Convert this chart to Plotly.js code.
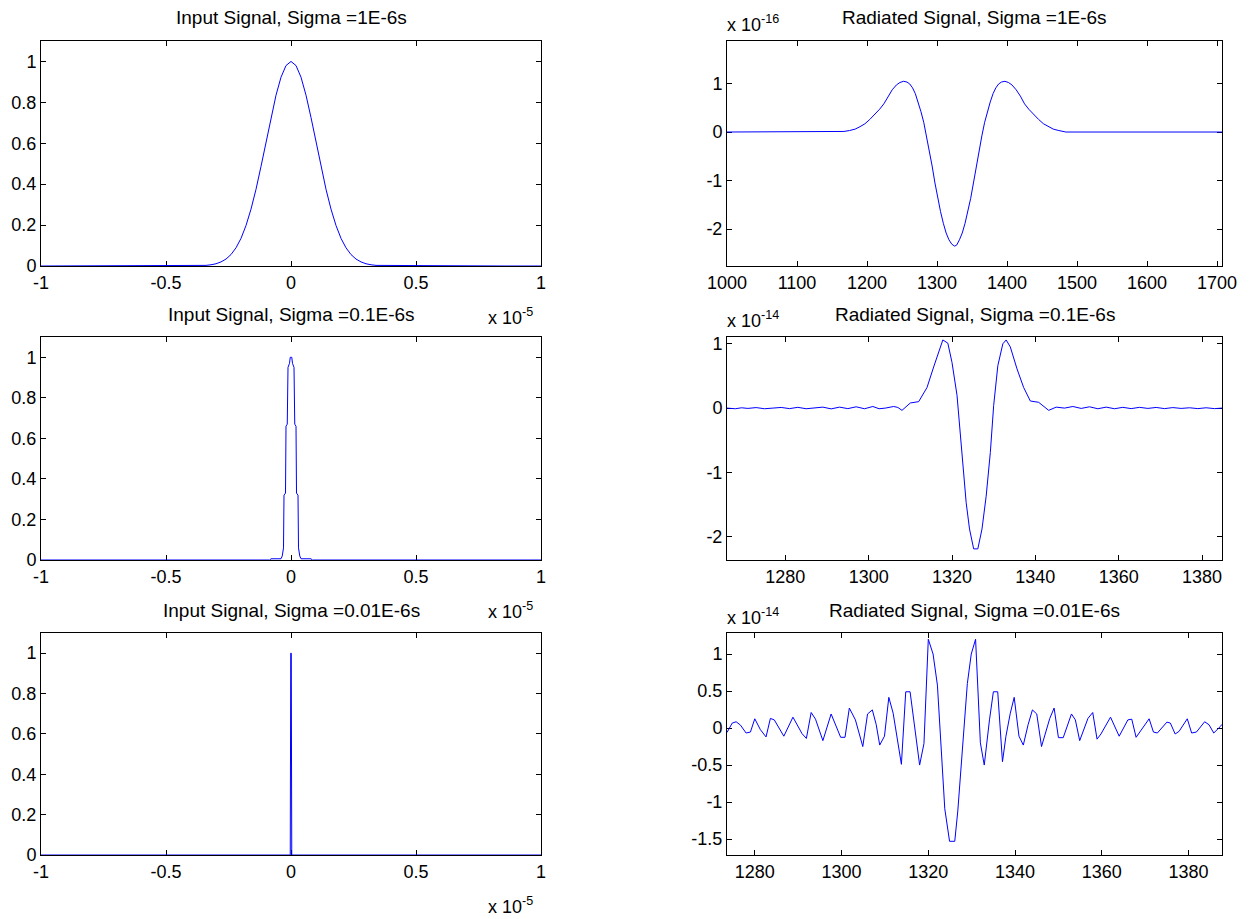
<!DOCTYPE html>
<html><head><meta charset="utf-8">
<script src="https://cdn.plot.ly/plotly-3.0.1.min.js"></script>
<style>html,body{margin:0;padding:0;background:#fff}#chart{width:1249px;height:919px}</style>
</head><body><div id="chart"></div>
<script>
// ---------- DATA (x in units of 1e-5 s for the input signals; radiated amplitudes in the units shown by the exponent labels) ----------
const titles = [
  "Input Signal, Sigma =1E-6s", "Radiated Signal, Sigma =1E-6s",
  "Input Signal, Sigma =0.1E-6s", "Radiated Signal, Sigma =0.1E-6s",
  "Input Signal, Sigma =0.01E-6s", "Radiated Signal, Sigma =0.01E-6s"
];

// Input signal, sigma = 1E-6 s
const in1X = [-1, -0.86, -0.34, -0.32, -0.30, -0.28, -0.26, -0.24, -0.22, -0.20, -0.18, -0.16, -0.14, -0.12, -0.10, -0.08, -0.06, -0.04, -0.02, 0,
              0.02, 0.04, 0.06, 0.08, 0.10, 0.12, 0.14, 0.16, 0.18, 0.20, 0.22, 0.24, 0.26, 0.28, 0.30, 0.32, 0.34, 0.86, 1];
const in1Y = [0, 0, 0.003, 0.006, 0.011, 0.020, 0.034, 0.056, 0.089, 0.135, 0.198, 0.278, 0.375, 0.487, 0.607, 0.726, 0.835, 0.923, 0.980, 1.000,
              0.980, 0.923, 0.835, 0.726, 0.607, 0.487, 0.375, 0.278, 0.198, 0.135, 0.089, 0.056, 0.034, 0.020, 0.011, 0.006, 0.003, 0, 0];

// Input signal, sigma = 0.1E-6 s
const in2X = [-1, -0.085, -0.08, -0.04, -0.035, -0.03, -0.028, -0.022, -0.02, -0.015, -0.012, -0.006, -0.003, 0,
              0.003, 0.006, 0.012, 0.015, 0.02, 0.022, 0.028, 0.03, 0.035, 0.04, 0.08, 0.085, 1];
const in2Y = [0, 0, 0.006, 0.006, 0.02, 0.06, 0.32, 0.33, 0.66, 0.67, 0.95, 0.97, 1.0, 1.0,
              1.0, 0.97, 0.95, 0.67, 0.66, 0.33, 0.32, 0.06, 0.02, 0.006, 0.006, 0, 0];

// Input signal, sigma = 0.01E-6 s
const in3X = [-1, -0.003, -0.001, 0.001, 0.003, 1];
const in3Y = [0, 0, 1, 1, 0, 0];

// Radiated signal, sigma = 1E-6 s  (x 1e-16)
const rad1X = [1000, 1165, 1167, 1175, 1183, 1190, 1197, 1204, 1211, 1218, 1224, 1230, 1236, 1242, 1247, 1252, 1257, 1261, 1265, 1269, 1273, 1277,
               1281, 1285, 1289, 1293, 1297, 1301, 1305, 1309, 1313, 1317, 1321, 1325, 1328, 1332, 1336, 1340, 1344, 1348, 1352, 1356, 1360,
               1364, 1368, 1372, 1376, 1380, 1384, 1388, 1392, 1397, 1402, 1407, 1413, 1419, 1425, 1431, 1438, 1445, 1452, 1459, 1466, 1474,
               1482, 1484, 1707];
const rad1Y = [0, 0, 0.012, 0.03, 0.06, 0.11, 0.17, 0.26, 0.36, 0.47, 0.58, 0.74, 0.87, 0.97, 1.02, 1.045, 1.03, 0.99, 0.91, 0.79, 0.62, 0.42,
               0.20, -0.08, -0.36, -0.70, -1.05, -1.37, -1.64, -1.88, -2.08, -2.22, -2.31, -2.35, -2.33, -2.22, -2.08, -1.88, -1.64, -1.37, -1.05, -0.70, -0.36,
               -0.08, 0.20, 0.42, 0.62, 0.79, 0.91, 0.99, 1.03, 1.045, 1.02, 0.97, 0.87, 0.74, 0.58, 0.47, 0.36, 0.26, 0.17, 0.11, 0.06, 0.03,
               0.012, 0, 0];

// Radiated signal, sigma = 0.1E-6 s  (x 1e-14)
const rad2X = [1266, 1268, 1269.5, 1271, 1273, 1275, 1277, 1279, 1281, 1283, 1285, 1287, 1289, 1291, 1293, 1295, 1297, 1299, 1301, 1302.5,
               1304, 1306, 1307, 1308, 1310, 1312, 1314, 1315.6, 1317.8, 1319, 1320, 1321.2, 1322.4, 1323.4, 1324.2, 1325.2, 1326.2, 1327.2,
               1328.2, 1329.2, 1330, 1331, 1332.2, 1333, 1334, 1335.6, 1337.2, 1338.8, 1340.8, 1343.2, 1345, 1347, 1349, 1351, 1353, 1355,
               1357, 1359, 1361, 1363, 1365, 1367, 1369, 1371, 1373, 1375, 1377, 1379, 1381, 1383, 1384.8];
const rad2Y = [0, -0.01, 0.005, -0.005, 0.008, -0.01, 0, 0.01, -0.008, 0.012, -0.01, 0.008, 0.015, -0.012, 0.015, -0.008, 0.02, -0.01, 0.025, -0.01,
               0, 0.025, 0.01, -0.035, 0.08, 0.10, 0.32, 0.64, 1.06, 1.01, 0.71, 0.2, -0.74, -1.47, -1.88, -2.19, -2.19, -1.88,
               -1.37, -0.69, 0.04, 0.66, 1.0, 1.06, 0.95, 0.61, 0.32, 0.11, 0.09, -0.035, 0.015, 0, 0.025, -0.005, 0.02, -0.01,
               0.015, -0.01, 0.012, -0.008, 0.012, -0.005, 0.01, -0.008, 0.008, -0.005, 0.005, -0.008, 0.005, -0.008, 0];

// Radiated signal, sigma = 0.01E-6 s  (x 1e-14)
const rad3X = [1273.6, 1274.8, 1275.7, 1276.7, 1278, 1279, 1280, 1281.3, 1282.6, 1283.6, 1284.5, 1286.7, 1288.8, 1290.9, 1291.9, 1293, 1294,
               1295.7, 1297.6, 1299.8, 1300.8, 1301.8, 1303.2, 1304.9, 1306, 1307.1, 1308, 1308.8, 1309.9, 1310.9, 1311.9, 1313.8, 1314.8,
               1315.8, 1318, 1319, 1320, 1321.1, 1322.1, 1323.8, 1324.9, 1326.1, 1326.8, 1329, 1329.9, 1330.9, 1332, 1332.9, 1334.1, 1335,
               1336, 1337.1, 1337.9, 1338.9, 1339.8, 1340.9, 1341.9, 1343, 1344, 1345, 1346.1, 1348, 1349, 1350, 1351.1, 1353, 1353.9,
               1354.9, 1356.8, 1357.9, 1358.9, 1359.8, 1362, 1364, 1366, 1366.9, 1367.9, 1370.9, 1371.9, 1372.8, 1375, 1375.8, 1376.9,
               1377.8, 1379.7, 1380.7, 1381.8, 1383.7, 1384.7, 1385.8, 1387.3, 1387.7];
const rad3Y = [-0.06, 0.067, 0.085, 0.04, -0.067, -0.054, 0.125, -0.022, -0.12, 0.13, 0.11, -0.11, 0.147, -0.076, -0.14, 0.21, 0.12,
               -0.17, 0.19, -0.125, -0.125, 0.27, 0.11, -0.25, 0.19, 0.245, 0.045, -0.23, -0.11, 0.415, 0.2, -0.49, 0.49,
               0.49, -0.5, -0.21, 1.2, 1.0, 0.58, -1.09, -1.53, -1.53, -1.12, 0.6, 1.0, 1.2, -0.2, -0.5, 0.11, 0.49,
               0.49, -0.455, -0.11, 0.2, 0.415, -0.11, -0.23, 0.045, 0.245, 0.19, -0.25, 0.13, 0.27, -0.13, -0.13, 0.19, 0.11,
               -0.17, 0.13, 0.21, -0.15, -0.08, 0.147, -0.11, 0.11, 0.12, -0.125, 0.125, -0.054, -0.067, 0.08, 0.067, -0.08,
               -0.045, 0.125, -0.067, -0.054, 0.085, 0.045, -0.067, 0.02, 0.05];

// Tick values / labels
const leftXTicks = [-1, -0.5, 0, 0.5, 1];
const leftXLabels = ["-1", "-0.5", "0", "0.5", "1"];
const leftYTicks = [0, 0.2, 0.4, 0.6, 0.8, 1];
const leftYLabels = ["0", "0.2", "0.4", "0.6", "0.8", "1"];
const r1XTicks = [1000, 1100, 1200, 1300, 1400, 1500, 1600, 1700];
const r1XLabels = ["1000", "1100", "1200", "1300", "1400", "1500", "1600", "1700"];
const r1YTicks = [-2, -1, 0, 1];
const r1YLabels = ["-2", "-1", "0", "1"];
const r23XTicks = [1280, 1300, 1320, 1340, 1360, 1380];
const r23XLabels = ["1280", "1300", "1320", "1340", "1360", "1380"];
const r2YTicks = [-2, -1, 0, 1];
const r2YLabels = ["-2", "-1", "0", "1"];
const r3YTicks = [-1.5, -1, -0.5, 0, 0.5, 1];
const r3YLabels = ["-1.5", "-1", "-0.5", "0", "0.5", "1"];
const exponents = ["x 10<sup>-5</sup>", "x 10<sup>-16</sup>", "x 10<sup>-5</sup>", "x 10<sup>-14</sup>", "x 10<sup>-5</sup>", "x 10<sup>-14</sup>"];

// ---------- LAYOUT ----------
const W = 1249, H = 919;
const FONT = "Liberation Sans, Arial, Helvetica, sans-serif";
const fx = p => p / W, fy = p => 1 - p / H;
const colPx = [[41, 541], [727, 1222]];
const rowPx = [[41, 266], [337, 560], [633, 855]];

function axisBase(extra) {
  return Object.assign({
    showline: true, linecolor: "#000", linewidth: 1, mirror: "ticks",
    ticks: "inside", ticklen: 5, tickwidth: 1, tickcolor: "#000",
    showgrid: false, zeroline: false, layer: "below traces", fixedrange: true,
    tickmode: "array",
    tickfont: {family: FONT, size: 18, color: "#000"}
  }, extra);
}

const ranges = [
  {x: [-1, 1], y: [0, 1.1], xt: leftXTicks, xl: leftXLabels, yt: leftYTicks, yl: leftYLabels},
  {x: [1000, 1707], y: [-2.76, 1.875], xt: r1XTicks, xl: r1XLabels, yt: r1YTicks, yl: r1YLabels},
  {x: [-1, 1], y: [0, 1.1], xt: leftXTicks, xl: leftXLabels, yt: leftYTicks, yl: leftYLabels},
  {x: [1266, 1384.8], y: [-2.363, 1.106], xt: r23XTicks, xl: r23XLabels, yt: r2YTicks, yl: r2YLabels},
  {x: [-1, 1], y: [0, 1.1], xt: leftXTicks, xl: leftXLabels, yt: leftYTicks, yl: leftYLabels},
  {x: [1273.6, 1387.7], y: [-1.715, 1.284], xt: r23XTicks, xl: r23XLabels, yt: r3YTicks, yl: r3YLabels}
];
const seriesX = [in1X, rad1X, in2X, rad2X, in3X, rad3X];
const seriesY = [in1Y, rad1Y, in2Y, rad2Y, in3Y, rad3Y];

const layout = {
  width: W, height: H, margin: {l: 0, r: 0, t: 0, b: 0},
  paper_bgcolor: "#fff", plot_bgcolor: "#fff", showlegend: false,
  font: {family: FONT, size: 18, color: "#000"},
  annotations: []
};
const traces = [];
for (let i = 0; i < 6; i++) {
  const c = colPx[i % 2], r = rowPx[Math.floor(i / 2)];
  const n = i === 0 ? "" : String(i + 1);
  const R = ranges[i];
  layout["xaxis" + n] = axisBase({domain: [fx(c[0]), fx(c[1])], range: R.x, anchor: "y" + n,
                                   tickvals: R.xt, ticktext: R.xl});
  layout["yaxis" + n] = axisBase({domain: [fy(r[1]), fy(r[0])], range: R.y, anchor: "x" + n,
                                   tickvals: R.yt, ticktext: R.yl});
  traces.push({x: seriesX[i], y: seriesY[i], xaxis: "x" + n, yaxis: "y" + n, type: "scatter", mode: "lines",
               line: {color: "#0000ff", width: 1}, hoverinfo: "skip"});
  // subplot title
  layout.annotations.push({text: titles[i], xref: "paper", yref: "paper", x: fx((c[0] + c[1]) / 2), y: fy(r[0] - 23),
                           xanchor: "center", yanchor: "middle", showarrow: false, font: {family: FONT, size: 19, color: "#000"}});
  // exponent labels
  if (i % 2 === 0) {
    layout.annotations.push({text: exponents[i], xref: "paper", yref: "paper", x: fx(c[1] - 6), y: fy(r[1] + 50),
                             xanchor: "right", yanchor: "middle", showarrow: false, font: {family: FONT, size: 18, color: "#000"}});
  } else {
    layout.annotations.push({text: exponents[i], xref: "paper", yref: "paper", x: fx(c[0] - 2), y: fy(r[0] - 17),
                             xanchor: "left", yanchor: "middle", showarrow: false, font: {family: FONT, size: 18, color: "#000"}});
  }
}
Plotly.newPlot("chart", traces, layout, {staticPlot: true, displayModeBar: false});
</script>
</body></html>
